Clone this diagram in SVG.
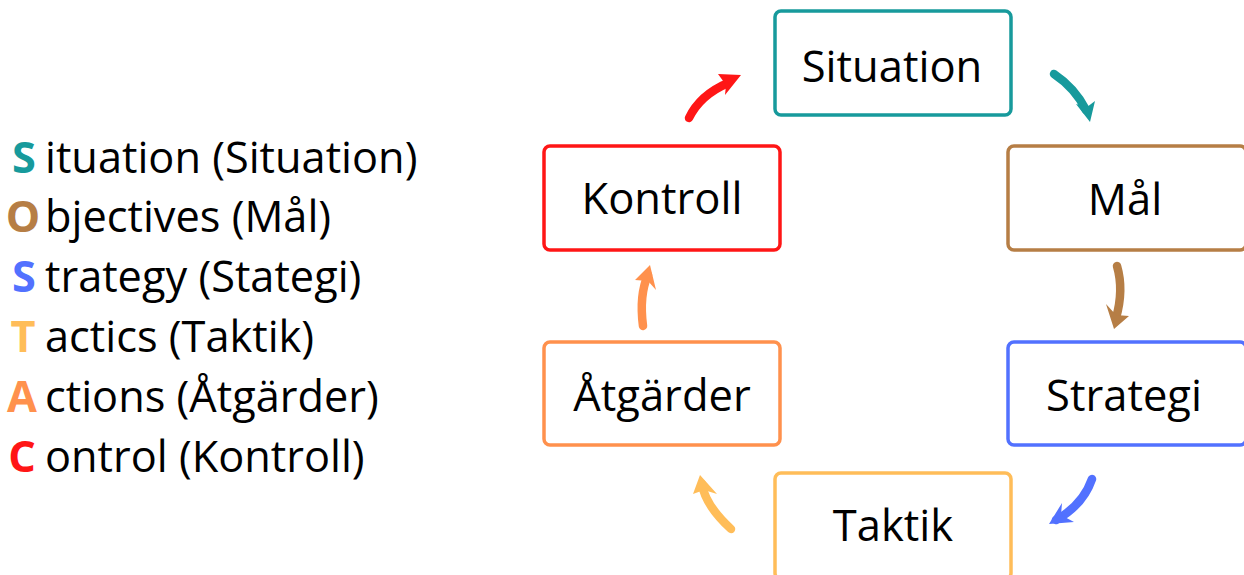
<svg xmlns="http://www.w3.org/2000/svg" width="1244" height="575" viewBox="0 0 1244 575">
<style>
.box{fill:#fff;stroke-width:3.5}
.lbl{font-family:"Open Sans","Liberation Sans",sans-serif;font-size:43.5px;fill:#000;text-anchor:middle}
.leg{font-family:"Open Sans","Liberation Sans",sans-serif;font-size:43.3px;fill:#000}
.ini{font-family:"Open Sans","Liberation Sans",sans-serif;font-size:43.3px;font-weight:bold;text-anchor:middle}
.arr{fill:none;stroke-width:8.5;stroke-linecap:round;stroke-linejoin:round}
</style>
<rect width="1244" height="575" fill="#fff"/>
<g id="legend">
<text class="ini" x="24" y="173" fill="#179a9c">S</text><text class="leg" x="45" y="173">ituation (Situation)</text>
<text class="ini" x="23" y="232" fill="#b67e45">O</text><text class="leg" x="45" y="232">bjectives (Mål)</text>
<text class="ini" x="24" y="292" fill="#5271ff">S</text><text class="leg" x="45" y="292">trategy (Stategi)</text>
<text class="ini" x="23" y="352" fill="#ffbd59">T</text><text class="leg" x="45" y="352">actics (Taktik)</text>
<text class="ini" x="22" y="412" fill="#ff914d">A</text><text class="leg" x="45" y="412">ctions (Åtgärder)</text>
<text class="ini" x="22" y="472" fill="#ff1616">C</text><text class="leg" x="45" y="472">ontrol (Kontroll)</text>
</g>
<g id="situation"><rect class="box" x="775" y="11" width="236" height="104" rx="6" stroke="#179a9c"/><text class="lbl" x="892" y="82">Situation</text></g>
<g id="mal"><rect class="box" x="1008" y="146" width="238" height="104" rx="6" stroke="#b67e45"/><text class="lbl" x="1125" y="215">Mål</text></g>
<g id="strategi"><rect class="box" x="1008" y="342" width="238" height="103" rx="6" stroke="#5271ff"/><text class="lbl" x="1124" y="411">Strategi</text></g>
<g id="taktik"><rect class="box" x="775" y="473" width="236" height="106" rx="6" stroke="#ffbd59"/><text class="lbl" x="893" y="541">Taktik</text></g>
<g id="atgarder"><rect class="box" x="544" y="342" width="236" height="103" rx="6" stroke="#ff914d"/><text class="lbl" x="662" y="411">Åtgärder</text></g>
<g id="kontroll"><rect class="box" x="544" y="146" width="236" height="104" rx="6" stroke="#ff1616"/><text class="lbl" x="662" y="214">Kontroll</text></g>
<g id="connectors">
<g><path class="arr" stroke="#179a9c" d="M1054,74 Q1075,88 1086,110"/><polygon fill="#179a9c" points="1076,104 1090,122 1095,101 1087,107"/></g>
<g><path class="arr" stroke="#b67e45" d="M1117,266 Q1124,290 1116,318"/><polygon fill="#b67e45" points="1106,304 1114,329 1129,316 1116,315"/></g>
<g><path class="arr" stroke="#5271ff" d="M1092,479 Q1083,505 1056,520"/><polygon fill="#5271ff" points="1062,503 1049,524 1074,522 1061,515"/></g>
<g><path class="arr" stroke="#ffbd59" d="M731,529 Q705,505 702,484"/><polygon fill="#ffbd59" points="693,494 700,475 717,494 704,490"/></g>
<g><path class="arr" stroke="#ff914d" d="M643,326 Q639,295 648,275"/><polygon fill="#ff914d" points="635,280 650,265 656,290 648,281"/></g>
<g><path class="arr" stroke="#ff1616" d="M689,118 Q700,95 728,83"/><polygon fill="#ff1616" points="718,74 741,75 725,95 726,85"/></g>
</g>
</svg>
